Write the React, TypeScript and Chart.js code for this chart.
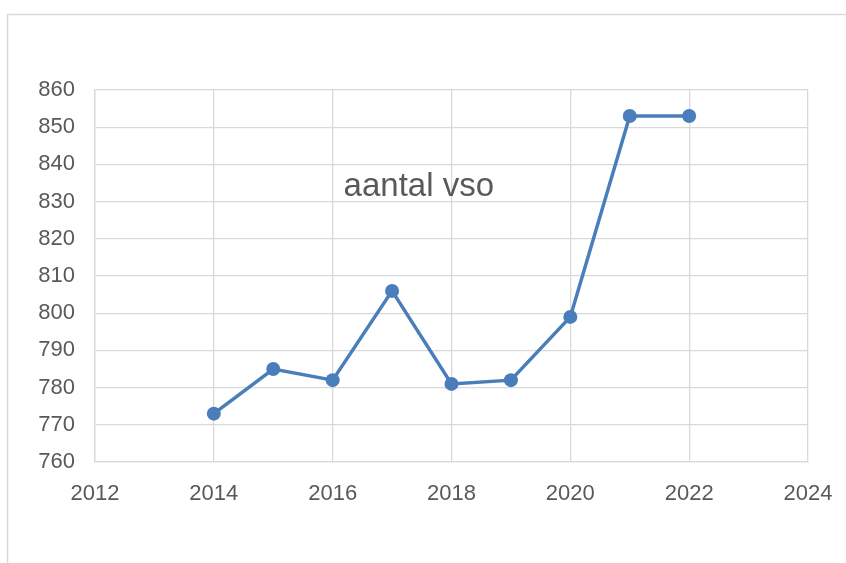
import React, { useEffect, useRef } from "react";
import { Chart, registerables } from "chart.js";

Chart.register(...registerables);

const years = [2014, 2015, 2016, 2017, 2018, 2019, 2020, 2021, 2022];
const values = [773, 785, 782, 806, 781, 782, 799, 853, 853];
const chartTitle = "aantal vso";
const xMin = 2012;
const xMax = 2024;
const yMin = 760;
const yMax = 860;

const FONT = "'Liberation Sans', Arial, sans-serif";
const TEXT = "#595959";
const GRID = "#d9d9d9";
const BLUE = "#4A7EBB";

const framePlugin = {
  id: "frame",
  beforeDraw(chart: any) {
    const ctx = chart.ctx;
    ctx.save();
    ctx.fillStyle = "#ffffff";
    ctx.fillRect(0, 0, chart.width, chart.height);
    ctx.strokeStyle = GRID;
    ctx.lineWidth = 1.5;
    ctx.beginPath();
    ctx.moveTo(7.5, chart.height);
    ctx.lineTo(7.5, 14.5);
    ctx.lineTo(chart.width, 14.5);
    ctx.stroke();
    ctx.restore();
  },
  afterDraw(chart: any) {
    const ctx = chart.ctx;
    const xs = chart.scales.x;
    const ys = chart.scales.y;
    ctx.save();
    ctx.fillStyle = TEXT;
    ctx.font = `33px ${FONT}`;
    ctx.textAlign = "center";
    ctx.textBaseline = "middle";
    ctx.fillText(chartTitle, xs.getPixelForValue(2017.45), ys.getPixelForValue(834.0));
    ctx.restore();
  },
};

export default function App() {
  const ref = useRef<HTMLCanvasElement>(null);
  useEffect(() => {
    document.body.style.margin = "0";
    const chart = new Chart(ref.current!, {
      type: "scatter",
      data: {
        datasets: [
          {
            data: years.map((y, i) => ({ x: y, y: values[i] })),
            showLine: true,
            borderColor: BLUE,
            backgroundColor: BLUE,
            borderWidth: 3.5,
            pointRadius: 7,
            pointBorderWidth: 0,
            pointBackgroundColor: BLUE,
          },
        ],
      },
      options: {
        animation: false,
        responsive: false,
        layout: { padding: { top: 90, right: 38, left: 0, bottom: 0 } },
        plugins: { legend: { display: false }, tooltip: { enabled: false }, title: { display: false } },
        scales: {
          x: {
            type: "linear",
            min: xMin,
            max: xMax,
            ticks: { stepSize: 2, color: TEXT, font: { family: FONT, size: 22 }, padding: 19, callback: (v: any) => String(v) },
            grid: { color: GRID, lineWidth: 1.3, drawTicks: false },
            border: { color: GRID, width: 1.3 },
            afterFit: (s: any) => { s.height = 101; s.paddingLeft = 0; s.paddingRight = 0; },
          },
          y: {
            type: "linear",
            min: yMin,
            max: yMax,
            ticks: { stepSize: 10, color: TEXT, font: { family: FONT, size: 22 }, padding: 20 },
            grid: { color: GRID, lineWidth: 1.3, drawTicks: false },
            border: { color: GRID, width: 1.3 },
            afterFit: (s: any) => { s.width = 95; s.paddingTop = 0; s.paddingBottom = 0; },
          },
        },
      } as any,
      plugins: [framePlugin],
    });
    return () => chart.destroy();
  }, []);
  return <canvas ref={ref} width={846} height={563} style={{ display: "block" }} />;
}
